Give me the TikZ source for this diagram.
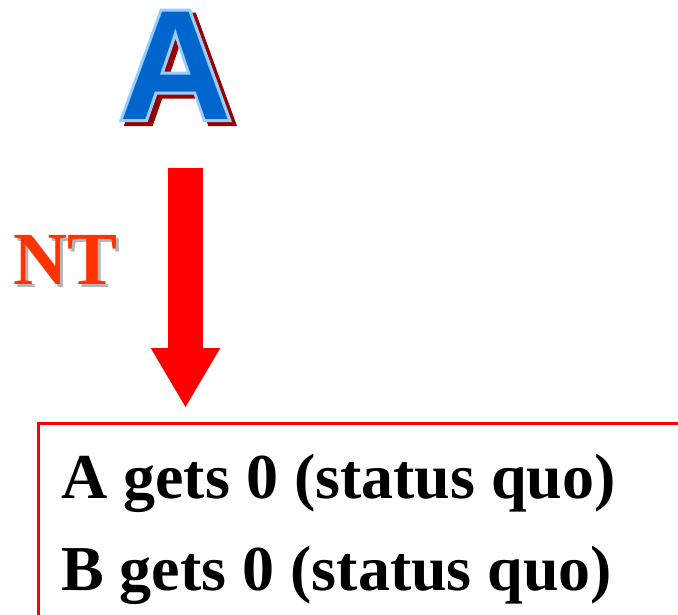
\documentclass[tikz,border=0pt]{standalone}
\usepackage{fontspec}
\setmainfont{Liberation Serif}
\newfontfamily\lettfont{Liberation Sans}
\newfontfamily\lettfontthick[FakeBold=3.85]{Liberation Sans}
\usetikzlibrary{arrows.meta}
\definecolor{abody}{HTML}{0066CC}
\definecolor{aline}{HTML}{99CCFF}
\definecolor{ashadow}{HTML}{990000}
\definecolor{ntcol}{HTML}{FF3300}
\definecolor{ntshadow}{HTML}{B4B4B4}
\definecolor{boxred}{HTML}{FF0000}
\newcommand\glyphcopy[4]{\makebox[0pt][l]{\hspace*{#1}\raisebox{#2}{\textcolor{#3}{#4}}}}
\newcommand\fancyletter[1]{%
  {\lettfontthick\bfseries\glyphcopy{5pt}{-4pt}{ashadow}{#1}\glyphcopy{0pt}{0pt}{aline}{#1}}%
  \textcolor{abody}{#1}}
\tikzset{
  bigletter/.style={anchor=base, inner sep=0pt, font=\lettfont\bfseries\fontsize{156}{156}\selectfont},
  ntlabel/.style={anchor=base west, inner sep=0pt, font=\bfseries\fontsize{75}{75}\selectfont},
  boxtext/.style={anchor=base west, inner sep=0pt, font=\bfseries\fontsize{64}{64}\selectfont},
  bigarrow/.style={draw=boxred, line width=35pt, line cap=butt,
    -{Triangle[width=65pt,length=60pt,fill=boxred]}},
  outcome/.style={draw=boxred, line width=3pt}
}
\begin{document}
\begin{tikzpicture}[x=1pt,y=-1pt]
\useasboundingbox (0,0) rectangle (678,614);
\clip (0,0) rectangle (678,614);
% letter A with shadow and outline
\node[bigletter] (lettA) at (175.5,119) {\fancyletter{A}};
% NT label
\node[ntlabel] (nt) at (13,284) {\glyphcopy{3pt}{-3pt}{ntshadow}{NT}\textcolor{ntcol}{NT}};
% arrow
\coordinate (arrS) at (185.5,168);
\coordinate (arrT) at (185.5,408);
\draw[bigarrow] (arrS) -- (arrT);
% outcome box
\coordinate (boxBL) at (38.5,620);
\coordinate (boxTR) at (690,423.5);
\draw[outcome] (boxBL) |- (boxTR);
\node[boxtext] (l1) at (61,498) {A gets 0 (status quo)};
\node[boxtext] (l2) at (61,590) {B gets 0 (status quo)};
\end{tikzpicture}
\end{document}
